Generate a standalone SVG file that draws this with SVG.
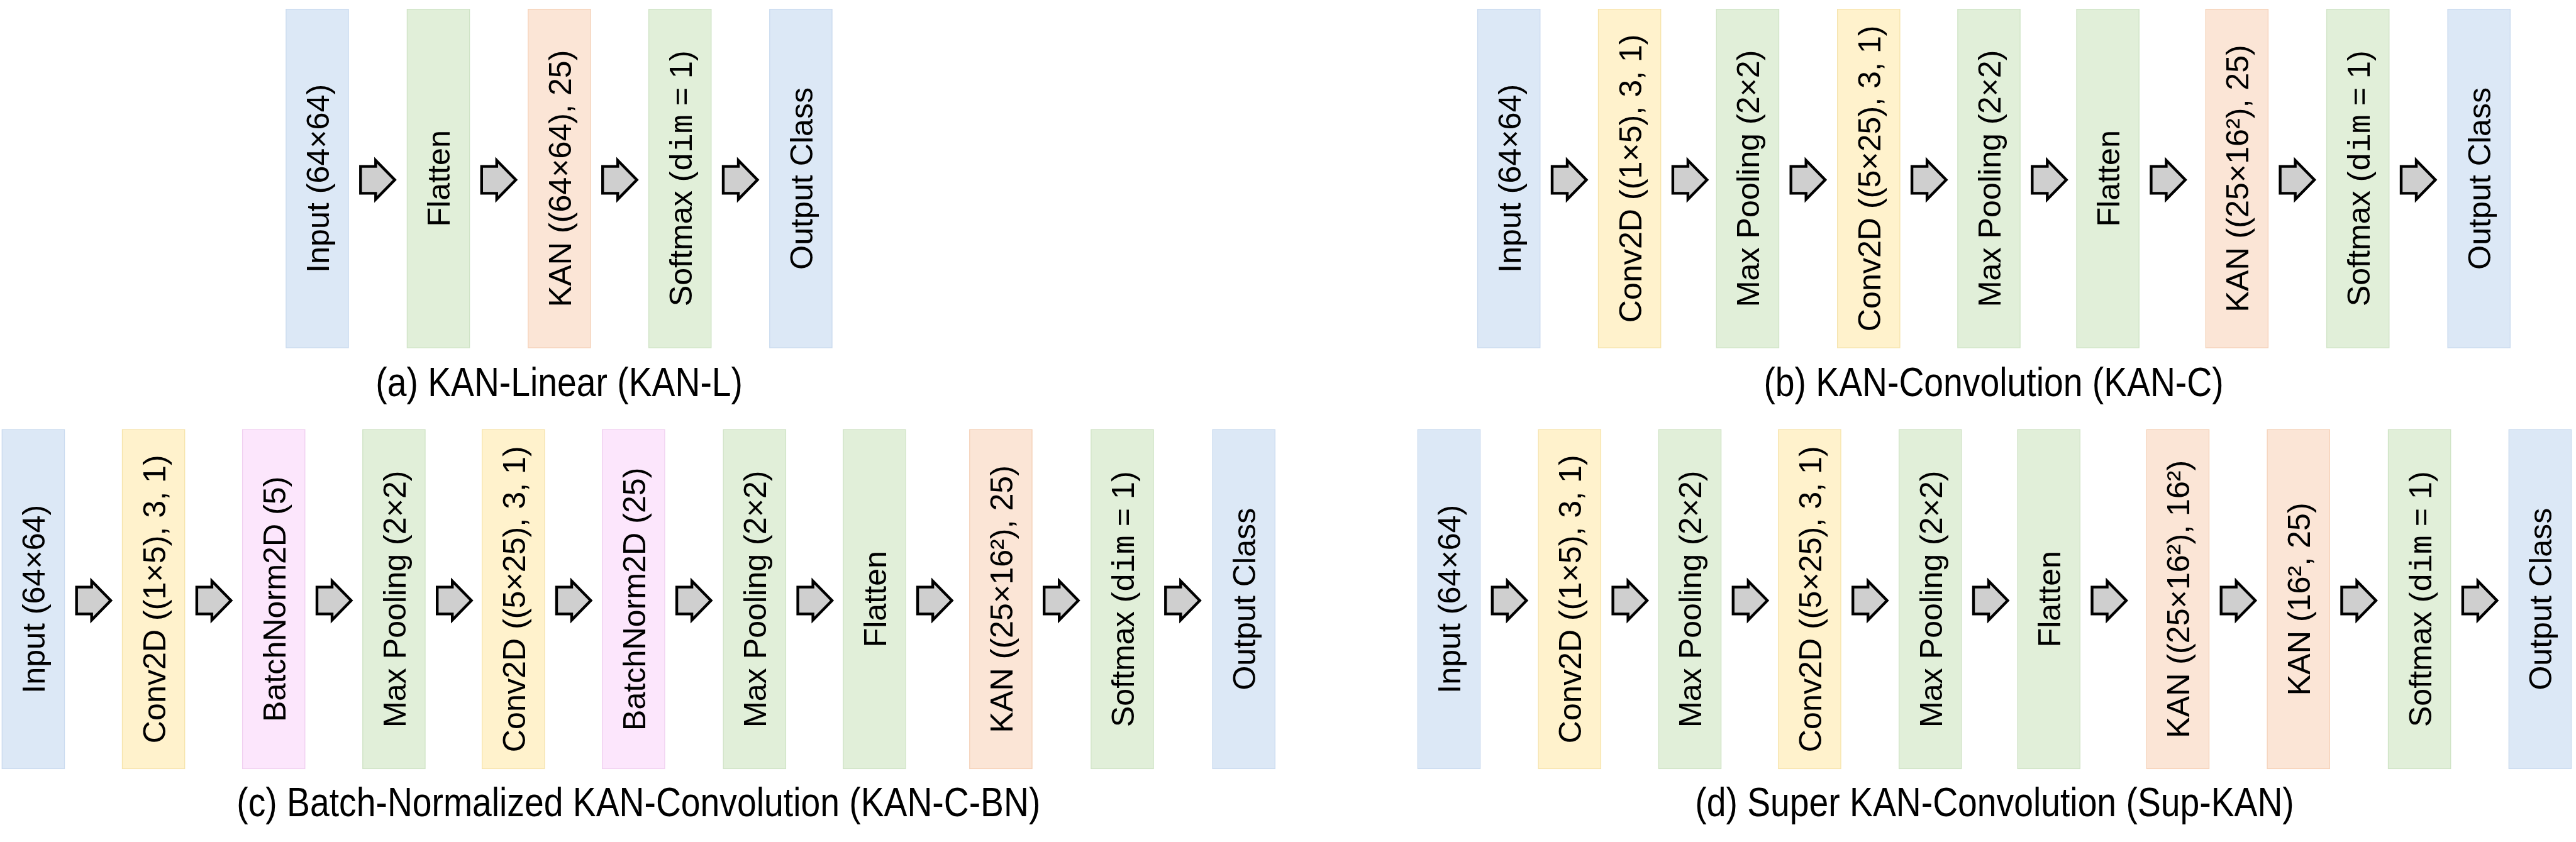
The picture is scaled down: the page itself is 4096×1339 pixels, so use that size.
<svg xmlns="http://www.w3.org/2000/svg" xmlns:xlink="http://www.w3.org/1999/xlink" width="4096" height="1339" viewBox="0 0 4096 1339">
<style>
.b{fill:#dce8f6;stroke:#c9daef;stroke-width:1.3}
.g{fill:#e1efd9;stroke:#cfe3c5;stroke-width:1.3}
.o{fill:#fbe5d6;stroke:#f5d0b6;stroke-width:1.3}
.y{fill:#fff2cc;stroke:#f6e3ab;stroke-width:1.3}
.p{fill:#fce6fc;stroke:#f0cff0;stroke-width:1.3}
.lb{font-family:"Liberation Sans",Arial,sans-serif;font-size:50.2px;fill:#000;text-anchor:middle}
.mono{font-family:"Liberation Mono","Courier New",monospace}
.cap{font-family:"Liberation Sans",Arial,sans-serif;font-size:64px;fill:#000;text-anchor:middle}
.ar{fill:#cfcfcf;stroke:#000;stroke-width:4.4;stroke-linejoin:miter;stroke-miterlimit:10}
</style>
<defs>
<path id="arw" class="ar" d="M -27.1,-21.4 H -3.1 V -31 L 27.3,0 L -3.1,31 V 21.4 H -27.1 Z"/>
</defs>
<rect width="4096" height="1339" fill="#fff"/>

<!-- (a) -->
<g id="a-input"><rect class="b" x="454.9" y="14.7" width="99.2" height="538.3"/><text class="lb" transform="translate(522.9,283.85) rotate(-90)">Input (64×64)</text></g>
<g id="a-flatten"><rect class="g" x="647.4" y="14.7" width="99.2" height="538.3"/><text class="lb" transform="translate(715.4,283.85) rotate(-90)">Flatten</text></g>
<g id="a-kan"><rect class="o" x="839.8" y="14.7" width="99.2" height="538.3"/><text class="lb" transform="translate(907.8,283.85) rotate(-90)">KAN ((64×64), 25)</text></g>
<g id="a-softmax"><rect class="g" x="1031.6" y="14.7" width="99.2" height="538.3"/><text class="lb" transform="translate(1099.6,283.85) rotate(-90)">Softmax (<tspan class="mono">dim</tspan> = 1)</text></g>
<g id="a-output"><rect class="b" x="1223.8" y="14.7" width="99.2" height="538.3"/><text class="lb" transform="translate(1291.8,283.85) rotate(-90)">Output Class</text></g>
<text id="cap-a" class="cap" transform="translate(889.1,630) scale(0.864,1)">(a) KAN-Linear (KAN-L)</text>

<!-- (b) -->
<g id="b-input"><rect class="b" x="2349.6" y="14.7" width="99.2" height="538.3"/><text class="lb" transform="translate(2417.6,283.85) rotate(-90)">Input (64×64)</text></g>
<g id="b-conv1"><rect class="y" x="2541.5" y="14.7" width="99.2" height="538.3"/><text class="lb" transform="translate(2609.5,283.85) rotate(-90)">Conv2D ((1×5), 3, 1)</text></g>
<g id="b-pool1"><rect class="g" x="2729.3" y="14.7" width="99.2" height="538.3"/><text class="lb" transform="translate(2797.3,283.85) rotate(-90)">Max Pooling (2×2)</text></g>
<g id="b-conv2"><rect class="y" x="2921.7" y="14.7" width="99.2" height="538.3"/><text class="lb" transform="translate(2989.7,283.85) rotate(-90)">Conv2D ((5×25), 3, 1)</text></g>
<g id="b-pool2"><rect class="g" x="3112.9" y="14.7" width="99.2" height="538.3"/><text class="lb" transform="translate(3180.9,283.85) rotate(-90)">Max Pooling (2×2)</text></g>
<g id="b-flatten"><rect class="g" x="3302.0" y="14.7" width="99.2" height="538.3"/><text class="lb" transform="translate(3370.0,283.85) rotate(-90)">Flatten</text></g>
<g id="b-kan"><rect class="o" x="3507.2" y="14.7" width="99.2" height="538.3"/><text class="lb" transform="translate(3575.2,283.85) rotate(-90)">KAN ((25×16²), 25)</text></g>
<g id="b-softmax"><rect class="g" x="3699.6" y="14.7" width="99.2" height="538.3"/><text class="lb" transform="translate(3767.6,283.85) rotate(-90)">Softmax (<tspan class="mono">dim</tspan> = 1)</text></g>
<g id="b-output"><rect class="b" x="3892.1" y="14.7" width="99.2" height="538.3"/><text class="lb" transform="translate(3960.1,283.85) rotate(-90)">Output Class</text></g>
<text id="cap-b" class="cap" transform="translate(3170,630) scale(0.864,1)">(b) KAN-Convolution (KAN-C)</text>

<!-- (c) -->
<g id="c-input"><rect class="b" x="3.3" y="683.1" width="99.2" height="539.3"/><text class="lb" transform="translate(71.3,952.75) rotate(-90)">Input (64×64)</text></g>
<g id="c-conv1"><rect class="y" x="194.5" y="683.1" width="99.2" height="539.3"/><text class="lb" transform="translate(262.5,952.75) rotate(-90)">Conv2D ((1×5), 3, 1)</text></g>
<g id="c-bn1"><rect class="p" x="385.6" y="683.1" width="99.2" height="539.3"/><text class="lb" transform="translate(453.6,952.75) rotate(-90)">BatchNorm2D (5)</text></g>
<g id="c-pool1"><rect class="g" x="576.8" y="683.1" width="99.2" height="539.3"/><text class="lb" transform="translate(644.8,952.75) rotate(-90)">Max Pooling (2×2)</text></g>
<g id="c-conv2"><rect class="y" x="766.6" y="683.1" width="99.2" height="539.3"/><text class="lb" transform="translate(834.6,952.75) rotate(-90)">Conv2D ((5×25), 3, 1)</text></g>
<g id="c-bn2"><rect class="p" x="957.7" y="683.1" width="99.2" height="539.3"/><text class="lb" transform="translate(1025.7,952.75) rotate(-90)">BatchNorm2D (25)</text></g>
<g id="c-pool2"><rect class="g" x="1150.2" y="683.1" width="99.2" height="539.3"/><text class="lb" transform="translate(1218.2,952.75) rotate(-90)">Max Pooling (2×2)</text></g>
<g id="c-flatten"><rect class="g" x="1340.7" y="683.1" width="99.2" height="539.3"/><text class="lb" transform="translate(1408.7,952.75) rotate(-90)">Flatten</text></g>
<g id="c-kan"><rect class="o" x="1541.8" y="683.1" width="99.2" height="539.3"/><text class="lb" transform="translate(1609.8,952.75) rotate(-90)">KAN ((25×16²), 25)</text></g>
<g id="c-softmax"><rect class="g" x="1734.9" y="683.1" width="99.2" height="539.3"/><text class="lb" transform="translate(1802.9,952.75) rotate(-90)">Softmax (<tspan class="mono">dim</tspan> = 1)</text></g>
<g id="c-output"><rect class="b" x="1928.1" y="683.1" width="99.2" height="539.3"/><text class="lb" transform="translate(1996.1,952.75) rotate(-90)">Output Class</text></g>
<text id="cap-c" class="cap" transform="translate(1015.3,1298) scale(0.864,1)">(c) Batch-Normalized KAN-Convolution (KAN-C-BN)</text>

<!-- (d) -->
<g id="d-input"><rect class="b" x="2254.4" y="683.1" width="99.2" height="539.3"/><text class="lb" transform="translate(2322.4,952.75) rotate(-90)">Input (64×64)</text></g>
<g id="d-conv1"><rect class="y" x="2446.2" y="683.1" width="99.2" height="539.3"/><text class="lb" transform="translate(2514.2,952.75) rotate(-90)">Conv2D ((1×5), 3, 1)</text></g>
<g id="d-pool1"><rect class="g" x="2637.4" y="683.1" width="99.2" height="539.3"/><text class="lb" transform="translate(2705.4,952.75) rotate(-90)">Max Pooling (2×2)</text></g>
<g id="d-conv2"><rect class="y" x="2827.8" y="683.1" width="99.2" height="539.3"/><text class="lb" transform="translate(2895.8,952.75) rotate(-90)">Conv2D ((5×25), 3, 1)</text></g>
<g id="d-pool2"><rect class="g" x="3019.6" y="683.1" width="99.2" height="539.3"/><text class="lb" transform="translate(3087.6,952.75) rotate(-90)">Max Pooling (2×2)</text></g>
<g id="d-flatten"><rect class="g" x="3208.1" y="683.1" width="99.2" height="539.3"/><text class="lb" transform="translate(3276.1,952.75) rotate(-90)">Flatten</text></g>
<g id="d-kan1"><rect class="o" x="3413.3" y="683.1" width="99.2" height="539.3"/><text class="lb" transform="translate(3481.3,952.75) rotate(-90)">KAN ((25×16²), 16²)</text></g>
<g id="d-kan2"><rect class="o" x="3605.1" y="683.1" width="99.2" height="539.3"/><text class="lb" transform="translate(3673.1,952.75) rotate(-90)">KAN (16², 25)</text></g>
<g id="d-softmax"><rect class="g" x="3797.5" y="683.1" width="99.2" height="539.3"/><text class="lb" transform="translate(3865.5,952.75) rotate(-90)">Softmax (<tspan class="mono">dim</tspan> = 1)</text></g>
<g id="d-output"><rect class="b" x="3989.3" y="683.1" width="99.2" height="539.3"/><text class="lb" transform="translate(4057.3,952.75) rotate(-90)">Output Class</text></g>
<text id="cap-d" class="cap" transform="translate(3171.5,1298) scale(0.864,1)">(d) Super KAN-Convolution (Sup-KAN)</text>

<g id="connectors">
<use xlink:href="#arw" x="600.4" y="286"/>
<use xlink:href="#arw" x="792.9" y="286"/>
<use xlink:href="#arw" x="985.3" y="286"/>
<use xlink:href="#arw" x="1177.1" y="286"/>

<use xlink:href="#arw" x="2495.1" y="286"/>
<use xlink:href="#arw" x="2687.0" y="286"/>
<use xlink:href="#arw" x="2874.8" y="286"/>
<use xlink:href="#arw" x="3067.2" y="286"/>
<use xlink:href="#arw" x="3258.4" y="286"/>
<use xlink:href="#arw" x="3447.5" y="286"/>
<use xlink:href="#arw" x="3652.7" y="286"/>
<use xlink:href="#arw" x="3845.1" y="286"/>

<use xlink:href="#arw" x="148.8" y="955"/>
<use xlink:href="#arw" x="340.0" y="955"/>
<use xlink:href="#arw" x="531.1" y="955"/>
<use xlink:href="#arw" x="722.3" y="955"/>
<use xlink:href="#arw" x="912.1" y="955"/>
<use xlink:href="#arw" x="1103.2" y="955"/>
<use xlink:href="#arw" x="1295.7" y="955"/>
<use xlink:href="#arw" x="1486.2" y="955"/>
<use xlink:href="#arw" x="1687.3" y="955"/>
<use xlink:href="#arw" x="1880.4" y="955"/>

<use xlink:href="#arw" x="2399.9" y="955"/>
<use xlink:href="#arw" x="2591.7" y="955"/>
<use xlink:href="#arw" x="2782.9" y="955"/>
<use xlink:href="#arw" x="2973.3" y="955"/>
<use xlink:href="#arw" x="3165.1" y="955"/>
<use xlink:href="#arw" x="3353.6" y="955"/>
<use xlink:href="#arw" x="3558.8" y="955"/>
<use xlink:href="#arw" x="3750.6" y="955"/>
<use xlink:href="#arw" x="3943.0" y="955"/>
</g>
</svg>
